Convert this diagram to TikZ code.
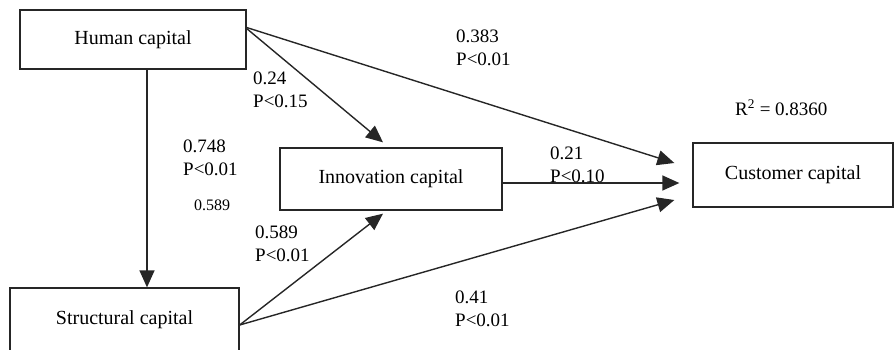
\documentclass[tikz,border=0pt]{standalone}
\usepackage{fontspec}
\setmainfont{Liberation Serif}
\usetikzlibrary{arrows.meta}
\definecolor{cLine}{rgb}{0.15,0.15,0.15}
\tikzset{capbox/.style={
  shape=rectangle,
  draw=cLine,
  line width=1.3pt,
  inner sep=0pt,
  font=\fontsize{20}{24}\selectfont,
  }
}
\tikzset{pathline/.style={
  draw=cLine,
  line width=1.4pt,
  -{Triangle[length=17pt,width=15pt]},
  }
}
\tikzset{coef/.style={
  anchor=base west,
  align=left,
  inner sep=0pt,
  font=\fontsize{19}{23}\selectfont,
  }
}

\begin{document}
\begin{tikzpicture}[x=1pt,y=-1pt]
  \clip (0,0) rectangle (894,349);
  % boxes
  \node[capbox, minimum width=226pt, minimum height=59pt] (human) at (133,39.5) {Human capital};
  \node[capbox, minimum width=229pt, minimum height=64pt] (struct) at (124.5,320) {Structural capital};
  \node[capbox, minimum width=222pt, minimum height=62pt] (innov) at (391,179) {Innovation capital};
  \node[capbox, minimum width=200pt, minimum height=64pt] (cust) at (793,175) {Customer capital};

  % paths
  \draw[pathline] ([yshift=12pt]human.east) -- ([xshift=-18pt,yshift=12pt]cust.west);
  \draw[pathline] ([yshift=11pt]human.east) -- ([xshift=-8pt,yshift=5pt]innov.north);
  \draw[pathline] ([xshift=14pt]human.south) -- ([xshift=14pt]human.south |- struct.north);
  \draw[pathline] ([yshift=-4pt]innov.east) -- ([xshift=-13pt,yshift=-8pt]cust.west);
  \draw[pathline] ([yshift=-5pt]struct.east) -- ([xshift=-8pt,yshift=-3pt]innov.south);
  \draw[pathline] ([yshift=-5pt]struct.east) -- ([xshift=-18pt,yshift=-25pt]cust.west);

  % coefficients (base = last line)
  \node[coef] (c383) at (456,65) {0.383\\P<0.01};
  \node[coef] (c24) at (253,107) {0.24\\P<0.15};
  \node[coef] (c748) at (183,175) {0.748\\P<0.01};
  \node[coef, font=\fontsize{16}{19}\selectfont] (c589s) at (194,210) {0.589};
  \node[coef] (c21) at (550,182) {0.21\\P<0.10};
  \node[coef] (c589) at (255,261) {0.589\\P<0.01};
  \node[coef] (c41) at (455,326) {0.41\\P<0.01};
  \node[coef] (rsq) at (735,115) {R\textsuperscript{2} = 0.8360};
\end{tikzpicture}
\end{document}
